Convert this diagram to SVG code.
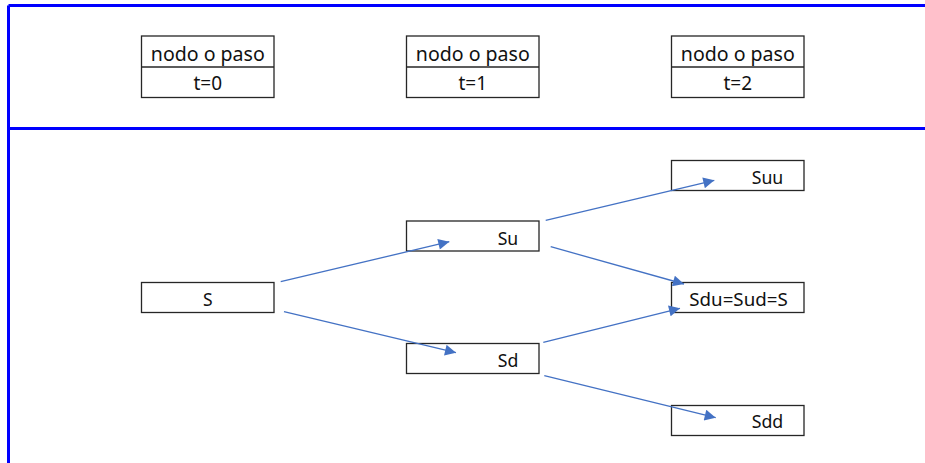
<svg xmlns="http://www.w3.org/2000/svg" width="925" height="463" viewBox="0 0 925 463">
  <style>
    .box { fill: #ffffff; stroke: #262626; stroke-width: 1.3; }
    .frame { fill: none; stroke: #0000ff; stroke-width: 3; }
    .lbl { font-family: "Noto Sans", "Liberation Sans", Arial, sans-serif; font-size: 17.5px; fill: #111111; }
    .hdr { font-family: "Noto Sans", "Liberation Sans", Arial, sans-serif; font-size: 19px; fill: #111111; text-anchor: middle; }
    .edge { stroke: #4472c4; stroke-width: 1.3; fill: none; marker-end: url(#tip); }
  </style>
  <defs>
    <marker id="tip" viewBox="0 0 10 10" refX="10" refY="5" markerUnits="userSpaceOnUse" markerWidth="13" markerHeight="11" orient="auto">
      <path d="M0,0 L10,5 L0,10 z" fill="#4472c4"/>
    </marker>
  </defs>
  <rect width="925" height="463" fill="#ffffff"/>

  <!-- frame -->
  <g id="frame">
    <line class="frame" x1="8.5" y1="5.5" x2="925" y2="5.5"/>
    <line class="frame" x1="8.5" y1="5.5" x2="8.5" y2="463"/>
    <line class="frame" x1="8.5" y1="128.5" x2="925" y2="128.5"/>
  </g>

  <!-- time step headers -->
  <g id="step0">
    <rect class="box" x="141.5" y="36" width="132.5" height="61.5"/>
    <line class="box" x1="141.5" y1="67" x2="274" y2="67"/>
    <text class="hdr" x="207.8" y="60.5" textLength="114" lengthAdjust="spacingAndGlyphs">nodo o paso</text>
    <text class="hdr" x="207.8" y="90">t=0</text>
  </g>
  <g id="step1">
    <rect class="box" x="406.5" y="36" width="132.5" height="61.5"/>
    <line class="box" x1="406.5" y1="67" x2="539" y2="67"/>
    <text class="hdr" x="472.8" y="60.5" textLength="114" lengthAdjust="spacingAndGlyphs">nodo o paso</text>
    <text class="hdr" x="472.8" y="90">t=1</text>
  </g>
  <g id="step2">
    <rect class="box" x="671.5" y="36" width="132.5" height="61.5"/>
    <line class="box" x1="671.5" y1="67" x2="804" y2="67"/>
    <text class="hdr" x="737.8" y="60.5" textLength="114" lengthAdjust="spacingAndGlyphs">nodo o paso</text>
    <text class="hdr" x="737.8" y="90">t=2</text>
  </g>

  <!-- tree nodes -->
  <g id="S">
    <rect class="box" x="141.5" y="282.5" width="132.5" height="30"/>
    <text class="lbl" x="207.8" y="306" text-anchor="middle">S</text>
  </g>
  <g id="Su">
    <rect class="box" x="406.5" y="221" width="132.5" height="30"/>
    <text class="lbl" x="497.7" y="244.5" textLength="20.6" lengthAdjust="spacingAndGlyphs">Su</text>
  </g>
  <g id="Sd">
    <rect class="box" x="406.5" y="343.5" width="132.5" height="30"/>
    <text class="lbl" x="497.7" y="367" textLength="20.6" lengthAdjust="spacingAndGlyphs">Sd</text>
  </g>
  <g id="Suu">
    <rect class="box" x="671.5" y="160.5" width="132.5" height="30"/>
    <text class="lbl" x="751.7" y="183.5" textLength="31.6" lengthAdjust="spacingAndGlyphs">Suu</text>
  </g>
  <g id="Sdu">
    <rect class="box" x="671.5" y="282.5" width="132.5" height="30"/>
    <text class="lbl" x="689.3" y="306" textLength="98.4" lengthAdjust="spacingAndGlyphs">Sdu=Sud=S</text>
  </g>
  <g id="Sdd">
    <rect class="box" x="671.5" y="405.5" width="132.5" height="30"/>
    <text class="lbl" x="751.7" y="428" textLength="31.6" lengthAdjust="spacingAndGlyphs">Sdd</text>
  </g>

  <!-- connectors -->
  <g id="edges">
    <line class="edge" x1="280.7" y1="281.7" x2="449.3" y2="241.7"/>
    <line class="edge" x1="284" y1="311.7" x2="456" y2="352.7"/>
    <line class="edge" x1="545.7" y1="220.3" x2="714.3" y2="180.3"/>
    <line class="edge" x1="550.7" y1="246.7" x2="684" y2="284"/>
    <line class="edge" x1="543.3" y1="342.3" x2="680" y2="308.3"/>
    <line class="edge" x1="544.3" y1="375.7" x2="715.7" y2="417.7"/>
  </g>
</svg>
